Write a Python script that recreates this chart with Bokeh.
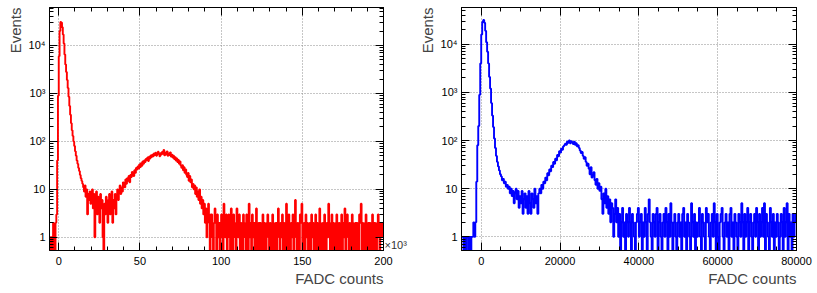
import numpy as np
from bokeh.plotting import figure
from bokeh.layouts import row
from bokeh.models import (FixedTicker, LinearAxis, LogAxis, Title, Range1d)
from bokeh.embed import file_html
from bokeh.resources import INLINE

# ---------------- data ----------------
# left panel (red): bins of 500 FADC counts starting at -6000
left_bin_start = -6000
left_bin_width = 500
left_counts = [
    1, 0, 1, 1, 0, 2, 1, 0, 2, 3,
    40, 900, 6000, 20000, 31000, 30000, 24000, 17000, 11000, 6500,
    4000, 2800, 1900, 1300, 850, 550, 360, 240, 170, 130,
    100, 80, 62, 50, 40, 34, 28, 24, 20, 17,
    15, 13, 11, 9, 12, 7, 10, 3, 8, 6,
    9, 5, 7, 10, 4, 8, 1, 6, 9, 3,
    7, 5, 2, 8, 4, 6, 1, 0, 5, 3,
    7, 4, 2, 6, 8, 3, 5, 9, 2, 6,
    4, 8, 3, 7, 10, 6, 9, 12, 8, 11,
    9, 14, 12, 11, 16, 13, 17, 15, 19, 14,
    20, 18, 23, 21, 19, 25, 22, 28, 26, 30,
    27, 33, 29, 35, 31, 38, 34, 40, 37, 43,
    41, 46, 39, 48, 44, 51, 47, 53, 49, 56,
    52, 58, 50, 55, 61, 54, 49, 57, 53, 60,
    55, 66, 51, 58, 54, 62, 50, 56, 52, 59,
    48, 53, 46, 50, 43, 47, 40, 44, 37, 41,
    34, 38, 31, 28, 32, 25, 29, 22, 26, 20,
    18, 22, 15, 19, 14, 16, 11, 13, 10, 12,
    8, 11, 7, 9, 6, 10, 5, 7, 4, 6,
    3, 5, 2, 4, 1, 3, 5, 2, 0, 3,
    3, 1, 0, 2, 4, 2, 0, 3, 1, 2,
    0, 2, 3, 1, 0, 5, 2, 1, 3, 0,
    2, 3, 1, 0, 4, 2, 0, 3, 2, 1,
    0, 4, 2, 1, 3, 0, 2, 1, 0, 3,
    2, 1, 0, 3, 2, 0, 5, 1, 2, 0,
    3, 1, 2, 0, 2, 4, 0, 1, 2, 0,
    2, 0, 1, 3, 0, 2, 1, 0, 2, 3,
    1, 0, 2, 1, 0, 3, 2, 0, 1, 2,
    0, 2, 4, 1, 0, 2, 1, 3, 0, 2,
    1, 0, 5, 2, 0, 3, 1, 0, 2, 1,
    3, 0, 2, 6, 1, 0, 2, 1, 0, 3,
    2, 5, 0, 1, 2, 0, 3, 1, 2, 0,
    1, 2, 0, 3, 1, 2, 0, 1, 3, 0,
    2, 1, 0, 4, 2, 0, 1, 2, 0, 3,
    1, 0, 2, 1, 5, 2, 0, 1, 3, 0,
    2, 1, 0, 2, 3, 0, 1, 2, 0, 1,
    3, 0, 2, 1, 4, 0, 2, 3, 1, 0,
    2, 1, 0, 3, 2, 0, 1, 2, 0, 2,
    1, 0, 3, 2, 5, 0, 2, 1, 0, 2,
    3, 0, 1, 2, 0, 2, 1, 0, 3, 2,
    0, 2, 1, 0, 2, 3, 1, 0, 2, 1,
    2, 1,
]

# right panel (blue): bins of 250 FADC counts starting at -5000
right_bin_start = -5000
right_bin_width = 250
right_counts = [
    1, 1, 0, 1, 0, 1, 1, 0, 1, 0,
    1, 1, 2, 1, 2, 14, 80, 200, 890, 4000,
    16000, 29000, 32000, 28000, 19000, 11000, 7000, 4000, 2100, 1200,
    600, 330, 190, 110, 70, 48, 36, 29, 24, 20,
    18, 15, 16, 13, 14, 11, 12, 10, 11, 8, 10, 7, 9, 5, 8, 10, 6, 9, 4, 7,
    5, 9, 3, 6, 8, 4, 7, 3, 9, 5, 3, 8, 6, 4, 10, 5, 7, 3, 8, 10,
    8, 12, 10, 14, 13, 17, 15, 21, 19, 25, 23, 30, 28, 36, 33, 42, 39, 50, 47, 60,
    56, 68, 64, 75, 80, 86, 82, 95, 90, 100, 88, 97, 92, 85, 95, 82, 88, 76, 80, 70,
    62, 55, 58, 48, 42, 45, 36, 30, 33, 26, 20, 28, 17, 19, 22, 15, 12, 16, 10, 13,
    9, 11, 6, 3, 8, 5, 10, 4, 7, 3, 6, 2, 5, 4, 1, 3, 6, 2, 4, 1,
    3, 0, 2, 4, 1, 2, 0, 3, 2, 1, 4, 2, 0, 3, 2, 1, 0, 2, 3, 4,
    1, 2, 3, 0, 2, 1, 4, 2, 0, 3, 6, 2, 1, 0, 3, 2, 1, 3, 4, 0,
    2, 3, 1, 0, 2, 3, 1, 4, 2, 0, 3, 1, 5, 2, 0, 2, 3, 1, 0, 2,
    3, 1, 2, 0, 3, 4, 1, 2, 0, 3, 2, 1, 0, 5, 2, 1, 3, 0, 2, 1,
    2, 4, 1, 0, 3, 2, 1, 0, 4, 2, 3, 1, 0, 2, 3, 1, 5, 2, 0, 3,
    1, 0, 2, 3, 4, 1, 0, 2, 3, 1, 2, 0, 3, 4, 1, 2, 0, 3, 2, 1,
    0, 3, 2, 1, 5, 2, 0, 3, 1, 2, 4, 0, 2, 3, 1, 0, 2, 3, 1, 4,
    2, 0, 3, 1, 2, 4, 1, 5, 0, 3, 2, 1, 0, 4, 2, 1, 3, 0, 2, 1,
    3, 2, 0, 1, 3, 2, 0, 4, 1, 2, 5, 0, 3, 1, 2, 0, 3, 1, 2, 3,
]

left_xticks = [0, 50000, 100000, 150000, 200000]
left_xlabels = ["0", "50", "100", "150", "200"]
right_xticks = [0, 20000, 40000, 60000, 80000]
right_xlabels = ["0", "20000", "40000", "60000", "80000"]
y_ticks = [1, 10, 100, 1000, 10000]
y_labels = ["1", "10", "10\u00b2", "10\u00b3", "10\u2074"]

FONT = "Liberation Sans"


def step_path(start, width, counts):
    c = np.asarray(counts, dtype=float)
    edges = start + width * np.arange(len(c) + 1)
    xs = np.repeat(edges, 2)[1:-1]
    ys = np.repeat(np.where(c > 0, c, 1e-3), 2)
    return xs, ys


def style_axis(ax, show_labels=True, standoff=4):
    ax.axis_line_color = "black"
    ax.axis_line_width = 1
    ax.major_tick_in = 8
    ax.major_tick_out = 0
    ax.minor_tick_in = 4
    ax.minor_tick_out = 0
    ax.major_tick_line_color = "black"
    ax.minor_tick_line_color = "black"
    ax.major_label_text_font = FONT
    ax.major_label_text_color = "black"
    if show_labels:
        ax.major_label_text_font_size = "11px"
        ax.major_label_standoff = standoff
    else:
        ax.major_label_text_font_size = "0px"
        ax.major_label_standoff = 0
        ax.major_label_text_alpha = 0


def make_panel(counts, start, width, color, xr, yr, xticks, xlabels, xminor,
               w, bl, br, bt, bb, multiplier=None, mult_y=None):
    p = figure(x_range=Range1d(*xr), y_range=Range1d(*yr), y_axis_type="log",
               width=w, height=290, min_border_left=bl,
               min_border_right=br, min_border_top=bt, min_border_bottom=bb,
               output_backend="svg", toolbar_location=None,
               background_fill_color="white", border_fill_color="white")
    p.outline_line_color = "black"
    p.outline_line_width = 1

    xt = FixedTicker(ticks=xticks, minor_ticks=xminor)
    ymin = [m * 10 ** e for e in range(-1, 5) for m in range(2, 10)]
    yt = FixedTicker(ticks=y_ticks, minor_ticks=ymin)

    p.xaxis.ticker = xt
    p.xaxis.major_label_overrides = dict(zip(xticks, xlabels))
    p.yaxis.ticker = yt
    p.yaxis.major_label_overrides = dict(zip(y_ticks, y_labels))
    style_axis(p.xaxis[0], True, 6)
    style_axis(p.yaxis[0], True, 4)

    top = LinearAxis(ticker=xt)
    style_axis(top, False)
    p.add_layout(top, "above")
    right = LogAxis(ticker=yt)
    style_axis(right, False)
    p.add_layout(right, "right")

    if multiplier:
        # exponent marker shown at the lower right corner of the frame
        m_ax = LogAxis(ticker=FixedTicker(ticks=[mult_y], minor_ticks=[]),
                       major_label_overrides={mult_y: multiplier})
        m_ax.axis_line_color = None
        m_ax.major_tick_line_color = None
        m_ax.minor_tick_line_color = None
        m_ax.major_tick_in = 0
        m_ax.major_tick_out = 0
        m_ax.major_label_standoff = 1
        m_ax.major_label_text_font = FONT
        m_ax.major_label_text_font_size = "11px"
        m_ax.major_label_text_color = "#333333"
        p.add_layout(m_ax, "right")

    p.xgrid.ticker = xt
    p.ygrid.ticker = yt
    for g in (p.xgrid[0], p.ygrid[0]):
        g.grid_line_color = "#8c8c8c"
        g.grid_line_dash = "1 2"
        g.grid_line_width = 1

    xs, ys = step_path(start, width, counts)
    p.line(xs, ys, line_color=color, line_width=1.9)

    ytitle = Title(text="Events", align="right", text_font=FONT,
                   text_font_size="15px", text_font_style="normal",
                   standoff=4, offset=0)
    p.add_layout(ytitle, "left")
    xtitle = Title(text="FADC counts", align="right", text_font=FONT,
                   text_font_size="15px", text_font_style="normal",
                   standoff=1, offset=0)
    p.add_layout(xtitle, "below")
    return p


p1 = make_panel(left_counts, left_bin_start, left_bin_width, "#ff0000",
                (-5700, 200000), (0.53, 62000), left_xticks, left_xlabels,
                list(range(0, 200001, 10000)), 410, 49, 27, 6, 40,
                multiplier="\u00d710\u00b3", mult_y=0.68)
p2 = make_panel(right_counts, right_bin_start, right_bin_width, "#0000ff",
                (-5000, 80000), (0.52, 58000), right_xticks, right_xlabels,
                list(range(-5000, 80001, 5000)), 405, 51, 19, 7, 39)

layout = row(p1, p2)
open("out.html", "w").write(file_html(layout, INLINE))
